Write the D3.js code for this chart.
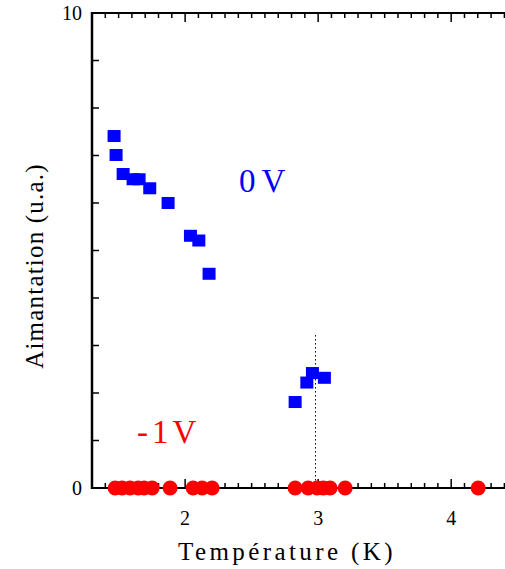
<!DOCTYPE html>
<html>
<head>
<meta charset="utf-8">
<script src="https://cdn.jsdelivr.net/npm/d3@7"></script>
<style>
  html, body { margin: 0; padding: 0; background: #fff; }
</style>
</head>
<body>
<script>
// Data
const tempZero = [1.466, 1.481, 1.534, 1.609, 1.654, 1.734, 1.872, 2.040, 2.103, 2.180, 2.827, 2.915, 2.957, 3.047]
const magZero = [7.41, 7.01, 6.61, 6.50, 6.50, 6.31, 6.00, 5.31, 5.21, 4.51, 1.81, 2.22, 2.42, 2.32]
const tempMinus = [1.474, 1.526, 1.586, 1.647, 1.692, 1.752, 1.887, 2.060, 2.128, 2.203, 2.827, 2.925, 2.992, 3.038, 3.090, 3.203, 4.203]
const magMinus = tempMinus.map(() => 0)
const xTickValues = [2, 3, 4]
const yTickLabels = [0, 10]
const markerTemp = 2.98
const markerTop = 3.22

const width = 505
const height = 569
const serif = 'Liberation Serif'

const xScale = d3.scaleLinear().domain([1.3, 4.6]).range([92, 531])
const yScale = d3.scaleLinear().domain([0, 10]).range([488, 13])

const svg = d3.select('body').append('svg')
  .attr('width', width)
  .attr('height', height)
  .attr('font-family', serif)

// Minor / major ticks
const minorX = d3.range(14, 47).map(d => d / 10).filter(d => !xTickValues.includes(d))

const axisG = svg.append('g').attr('stroke', '#000')

// bottom axis
axisG.append('line')
  .attr('x1', xScale.range()[0]).attr('x2', xScale.range()[1])
  .attr('y1', yScale(0)).attr('y2', yScale(0))
  .attr('stroke-width', 2)
// top axis
axisG.append('line')
  .attr('x1', xScale.range()[0]).attr('x2', xScale.range()[1])
  .attr('y1', yScale(10)).attr('y2', yScale(10))
  .attr('stroke-width', 2)
// left axis
axisG.append('line')
  .attr('x1', xScale(1.3)).attr('x2', xScale(1.3))
  .attr('y1', yScale(0) + 1).attr('y2', yScale(10) - 1)
  .attr('stroke-width', 2.5)

const xTicks = minorX.map(v => ({ v, len: 5 })).concat(xTickValues.map(v => ({ v, len: 9 })))
axisG.selectAll('.xb').data(xTicks).enter().append('line')
  .attr('x1', d => xScale(d.v)).attr('x2', d => xScale(d.v))
  .attr('y1', yScale(0)).attr('y2', d => yScale(0) - d.len)
  .attr('stroke-width', 1.5)
axisG.selectAll('.xt').data(xTicks).enter().append('line')
  .attr('x1', d => xScale(d.v)).attr('x2', d => xScale(d.v))
  .attr('y1', yScale(10)).attr('y2', d => yScale(10) + d.len)
  .attr('stroke-width', 1.5)
axisG.selectAll('.yl').data(d3.range(1, 10)).enter().append('line')
  .attr('x1', xScale(1.3)).attr('x2', xScale(1.3) + 7)
  .attr('y1', d => yScale(d)).attr('y2', d => yScale(d))
  .attr('stroke-width', 1.5)

// tick labels
svg.selectAll('.xlab').data(xTickValues).enter().append('text')
  .attr('x', d => xScale(d))
  .attr('y', 525)
  .attr('text-anchor', 'middle')
  .attr('font-size', 20)
  .text(d => d)

svg.selectAll('.ylab').data(yTickLabels).enter().append('text')
  .attr('x', 82)
  .attr('y', d => yScale(d) + 7)
  .attr('text-anchor', 'end')
  .attr('font-size', 20)
  .text(d => d)

// axis titles
svg.append('text')
  .attr('x', 287)
  .attr('y', 560)
  .attr('text-anchor', 'middle')
  .attr('font-size', 25)
  .attr('letter-spacing', 3.4)
  .text('Température (K)')

svg.append('text')
  .attr('transform', 'translate(43, 266) rotate(-90)')
  .attr('text-anchor', 'middle')
  .attr('font-size', 25)
  .attr('letter-spacing', 1.2)
  .text('Aimantation (u.a.)')

// dotted marker
svg.append('line')
  .attr('x1', xScale(markerTemp)).attr('x2', xScale(markerTemp))
  .attr('y1', yScale(markerTop)).attr('y2', yScale(0))
  .attr('stroke', '#000')
  .attr('stroke-width', 1)
  .attr('stroke-dasharray', '1.5,2.5')

// 0V squares
const zeroData = tempZero.map((t, i) => ({ t, m: magZero[i] }))
svg.selectAll('.sq').data(zeroData).enter().append('rect')
  .attr('x', d => xScale(d.t) - 6.5)
  .attr('y', d => yScale(d.m) - 6)
  .attr('width', 13)
  .attr('height', 12)
  .attr('fill', '#0000ff')

// -1V circles
const minusData = tempMinus.map((t, i) => ({ t, m: magMinus[i] }))
svg.selectAll('.ci').data(minusData).enter().append('circle')
  .attr('cx', d => xScale(d.t))
  .attr('cy', d => yScale(d.m))
  .attr('r', 7.5)
  .attr('fill', '#ff0000')

// labels
svg.append('text')
  .attr('x', 239).attr('y', 192)
  .attr('font-size', 33)
  .attr('letter-spacing', 6)
  .attr('fill', '#0000ff')
  .text('0V')

svg.append('text')
  .attr('x', 137).attr('y', 443)
  .attr('font-size', 33)
  .attr('letter-spacing', 4)
  .attr('fill', '#ff0000')
  .text('-1V')
</script>
</body>
</html>
